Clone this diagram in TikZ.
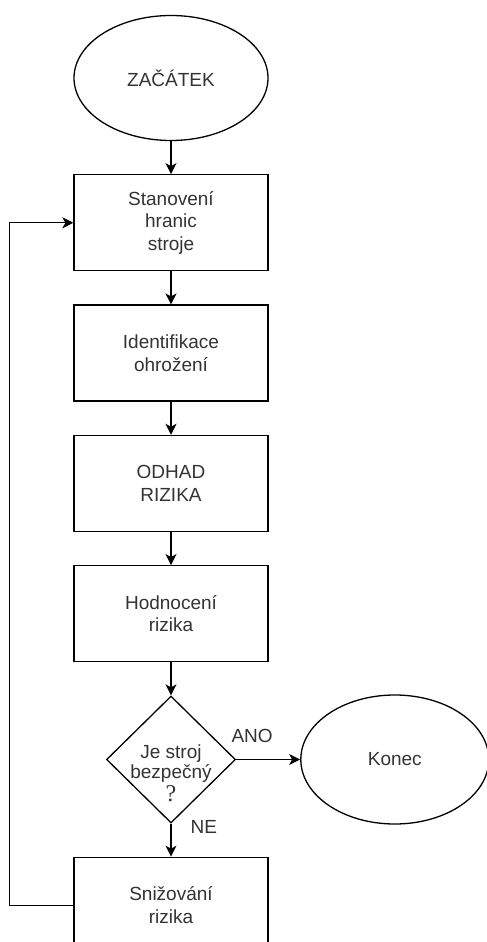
\documentclass[tikz,border=0pt]{standalone}
\usepackage{fontspec}
\setmainfont{Liberation Sans}
\newfontfamily\qfont{Liberation Serif}
\usepackage{tikz}
\usetikzlibrary{arrows.meta,positioning,shapes.geometric}
\definecolor{Ink}{HTML}{333333}

\begin{document}
\begin{tikzpicture}[
  x=1pt,y=-1pt,
  node distance=33pt and 64pt,
  line width=1.3pt,
  every node/.style={font=\fontsize{19pt}{22.5pt}\selectfont,text=Ink},
  box/.style={draw=black,rectangle,minimum width=194pt,minimum height=96pt,align=center},
  term/.style={draw=black,ellipse,minimum width=194pt,minimum height=125pt,align=center},
  decide/.style={draw=black,diamond,minimum width=129pt,minimum height=127pt,inner sep=0pt},
  lbl/.style={inner sep=0pt},
  arrow/.style={-{Stealth[length=11pt,width=11pt,inset=3pt]},color=black}
]
  \useasboundingbox (0,0) rectangle (487,942);

  \node[term] (start) at (171,78) {ZAČÁTEK};
  \node[box,below=of start] (bounds) {Stanovení\\hranic\\stroje};
  \node[box,below=of bounds] (hazard) {Identifikace\\ohrožení};
  \node[box,below=of hazard] (estimate) {ODHAD\\RIZIKA};
  \node[box,below=of estimate] (evaluate) {Hodnocení\\rizika};
  \node[decide,below=of evaluate,
        label={[align=center,yshift=-14pt,font=\fontsize{19pt}{20pt}\selectfont]center:Je stroj\\bezpečný\\[3pt]{\qfont\fontsize{24pt}{20pt}\selectfont ?}}] (safe) {};
  \node[term,right=of safe,minimum width=188pt,minimum height=129pt] (finish) {Konec};
  \node[box,below=of safe] (reduce) {Snižování\\rizika};

  \draw[arrow] (start) -- (bounds);
  \draw[arrow] (bounds) -- (hazard);
  \draw[arrow] (hazard) -- (estimate);
  \draw[arrow] (estimate) -- (evaluate);
  \draw[arrow] (evaluate) -- (safe);
  \draw[arrow] (safe) -- node[lbl,pos=0.25,above=16pt] {ANO} (finish);
  \draw[arrow] (safe) -- node[lbl,pos=0.1,right=19pt] {NE} (reduce);
  \draw[arrow] (reduce.west) -- ++(-64,0) |- (bounds.west);
\end{tikzpicture}
\end{document}
